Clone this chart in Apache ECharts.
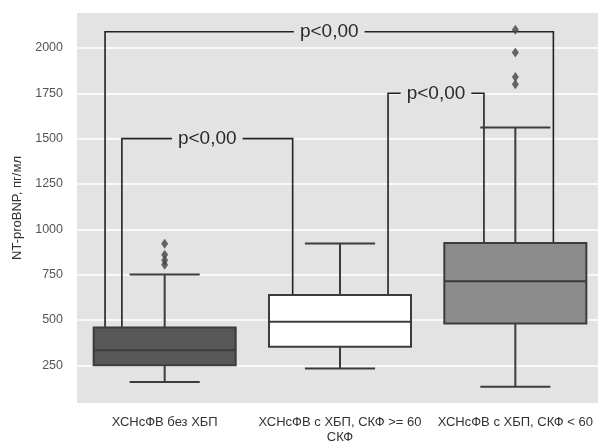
<!DOCTYPE html>
<html>
<head>
<meta charset="utf-8">
<script src="https://cdn.jsdelivr.net/npm/echarts@6/dist/echarts.min.js"></script>
<style>html,body{margin:0;padding:0;background:#fff;}#c{width:598px;height:444px;}</style>
</head>
<body>
<div id="c"></div>
<script>
// ---- data ----
const categories = ['ХСНсФВ без ХБП', 'ХСНсФВ с ХБП, СКФ >= 60\nСКФ', 'ХСНсФВ с ХБП, СКФ < 60'];
// [min whisker, Q1, median, Q3, max whisker]
const boxGroup1 = [158, 250, 333, 459, 751];
const boxGroup2 = [232, 352, 490, 637, 922];
const boxGroup3 = [131, 481, 714, 925, 1562];
const outliersGroup1 = [920, 860, 830, 805];
const outliersGroup3 = [2100, 1975, 1840, 1800];
const yTicks = [250, 500, 750, 1000, 1250, 1500, 1750, 2000];
const yMin = 42, yMax = 2193;
// brackets: [leftCat, leftOffset, rightCat, rightOffset, topValue]
const bracketA = [0, -0.244, 1, -0.27, 1500];
const bracketB = [1, 0.274, 2, -0.179, 1750];
const bracketC = [0, -0.34, 2, 0.217, 2090];
const pLabel = 'p<0,00';

const boxes = [boxGroup1, boxGroup2, boxGroup3];
const boxFills = ['#575757', '#ffffff', '#8c8c8c'];
const plotBg = '#e3e3e3';
const font = 'Liberation Sans, Arial, sans-serif';

const boxData = boxes.map((b, i) => [i].concat(b));
const outlierData = outliersGroup1.map(v => [0, v]).concat(outliersGroup3.map(v => [2, v]));
const bracketData = [bracketA, bracketB, bracketC].map(b => b.concat([boxes[b[0]][3], boxes[b[2]][3]]));

const chart = echarts.init(document.getElementById('c'));
chart.setOption({
  animation: false,
  backgroundColor: '#fff',
  grid: { left: 77, right: -5, top: 13, bottom: 41, show: true, backgroundColor: plotBg, borderWidth: 0,
          outerBoundsMode: 'none', containLabel: false },
  xAxis: {
    type: 'category', data: categories,
    axisLine: { show: false }, axisTick: { show: false }, splitLine: { show: false },
    axisLabel: { fontSize: 13, color: '#333', margin: 12, lineHeight: 15, fontFamily: font, interval: 0 }
  },
  yAxis: {
    type: 'value', min: yMin, max: yMax,
    name: 'NT-proBNP, пг/мл', nameLocation: 'middle', nameGap: 47, nameRotate: 90,
    nameTextStyle: { fontSize: 13, color: '#333', fontFamily: font },
    axisLine: { show: false },
    axisTick: { show: false, customValues: yTicks },
    axisLabel: { customValues: yTicks, fontSize: 12.5, color: '#555', margin: 14, fontFamily: font,
                 formatter: v => String(v) },
    splitLine: { show: true, lineStyle: { color: '#ffffff', width: 1.5 } }
  },
  series: [
    {
      type: 'custom', z: 2,
      data: bracketData,
      renderItem: function (params, api) {
        const band = api.size([1, 0])[0];
        const xl = api.coord([api.value(0), api.value(4)])[0] + api.value(1) * band;
        const xr = api.coord([api.value(2), api.value(4)])[0] + api.value(3) * band;
        const yt = api.coord([0, api.value(4)])[1];
        const yl = api.coord([0, api.value(5)])[1];
        const yr = api.coord([0, api.value(6)])[1];
        return {
          type: 'group',
          children: [
            { type: 'polyline', shape: { points: [[xl, yl], [xl, yt], [xr, yt], [xr, yr]] },
              style: { stroke: '#222', lineWidth: 1.6, fill: null } },
            { type: 'text', style: { text: pLabel, x: (xl + xr) / 2, y: yt, align: 'center', verticalAlign: 'middle',
              fontSize: 19, fill: '#2a2a2a', fontFamily: font,
              backgroundColor: plotBg, padding: [0, 6] } }
          ]
        };
      }
    },
    {
      type: 'custom', z: 3,
      data: boxData,
      renderItem: function (params, api) {
        const i = api.value(0);
        const band = api.size([1, 0])[0];
        const half = band * 0.405, cap = band * 0.2;
        const cx = api.coord([i, 0])[0];
        const y = k => api.coord([i, api.value(k)])[1];
        const yMinW = y(1), yQ1 = y(2), yMed = y(3), yQ3 = y(4), yMaxW = y(5);
        const ls = { stroke: '#3c3c3c', lineWidth: 2 };
        return {
          type: 'group',
          children: [
            { type: 'line', shape: { x1: cx, y1: yQ3, x2: cx, y2: yMaxW }, style: ls },
            { type: 'line', shape: { x1: cx, y1: yQ1, x2: cx, y2: yMinW }, style: ls },
            { type: 'line', shape: { x1: cx - cap, y1: yMaxW, x2: cx + cap, y2: yMaxW }, style: ls },
            { type: 'line', shape: { x1: cx - cap, y1: yMinW, x2: cx + cap, y2: yMinW }, style: ls },
            { type: 'rect', shape: { x: cx - half, y: yQ3, width: 2 * half, height: yQ1 - yQ3 },
              style: { fill: boxFills[i], stroke: '#3c3c3c', lineWidth: 2 } },
            { type: 'line', shape: { x1: cx - half, y1: yMed, x2: cx + half, y2: yMed }, style: ls }
          ]
        };
      }
    },
    {
      type: 'scatter', z: 4,
      data: outlierData,
      symbol: 'diamond', symbolSize: [7, 10],
      itemStyle: { color: '#444' }
    }
  ]
});
</script>
</body>
</html>
